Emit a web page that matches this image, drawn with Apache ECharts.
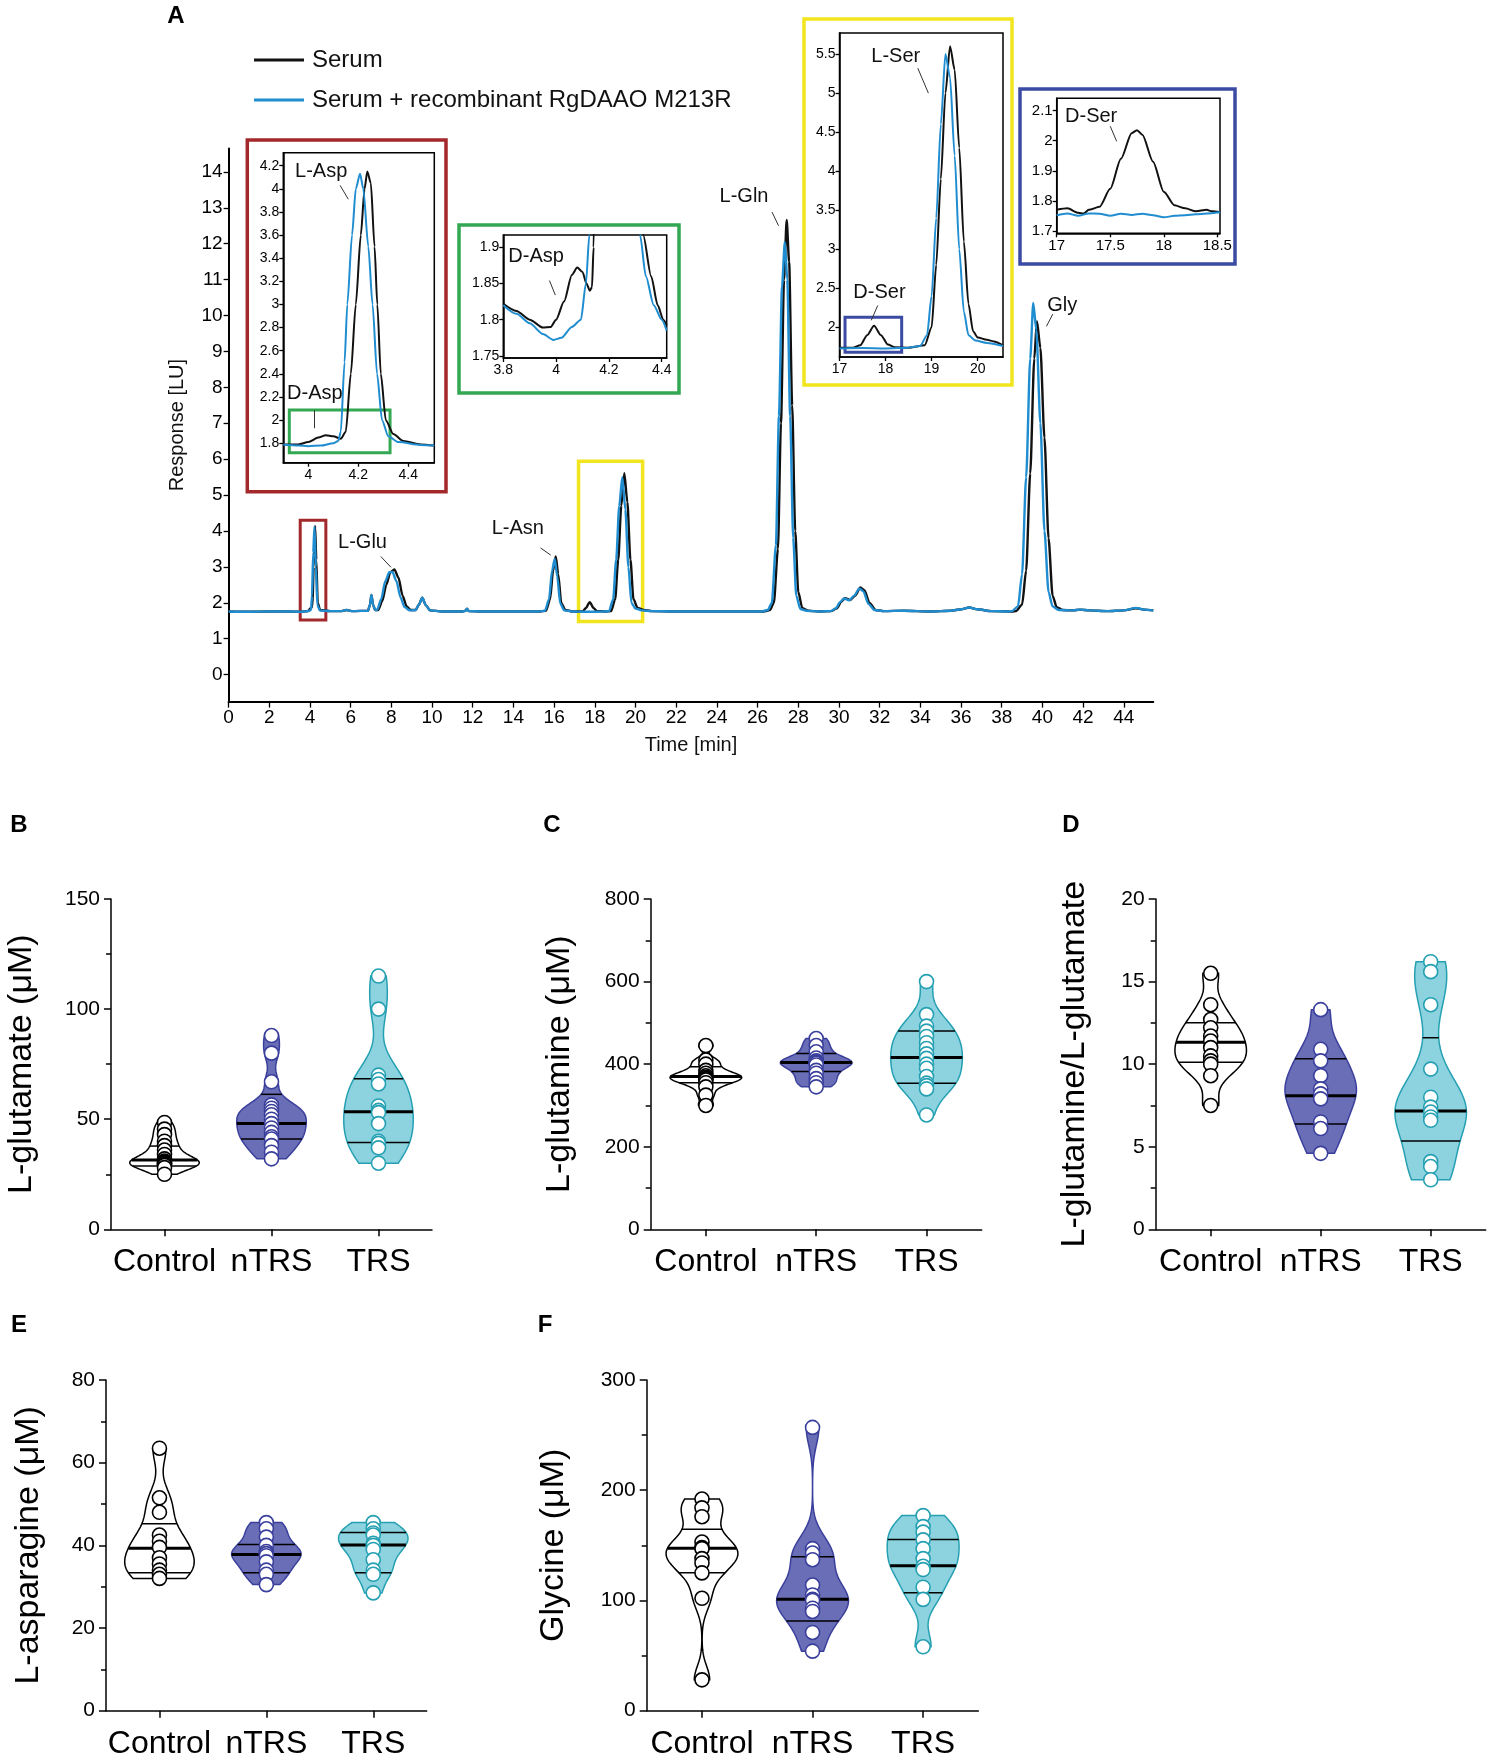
<!DOCTYPE html>
<html><head><meta charset="utf-8">
<script src="https://cdn.jsdelivr.net/npm/echarts@6/dist/echarts.min.js"></script>
<style>html,body{margin:0;padding:0;background:#fff}#c{width:1493px;height:1760px}</style>
</head><body><div id="c"></div>
<script>
// ---------------- DATA ----------------
const groups = ['Control', 'nTRS', 'TRS'];

// Panel A: chromatogram traces [time (min), response (LU)]
const serumTrace = [[0,1.76],[1,1.75],[2,1.76],[3,1.76],[3.5,1.75],[3.9,1.77],[4.05,1.86],[4.12,1.9],[4.18,3.0],[4.25,4.14],[4.31,3.2],[4.38,2.0],[4.5,1.8],[5,1.77],[5.5,1.77],[5.8,1.8],[6.1,1.77],[6.85,1.78],[6.95,1.95],[7.02,2.22],[7.1,1.95],[7.2,1.8],[7.35,1.8],[7.55,2.05],[7.75,2.5],[7.95,2.85],[8.15,2.93],[8.35,2.7],[8.55,2.2],[8.75,1.9],[8.95,1.8],[9.2,1.8],[9.35,1.95],[9.52,2.14],[9.7,1.93],[9.9,1.79],[10.5,1.76],[11.5,1.76],[11.65,1.78],[11.72,1.84],[11.8,1.77],[12.5,1.76],[14,1.76],[15.3,1.76],[15.6,1.78],[15.8,2.1],[15.95,2.9],[16.08,3.29],[16.2,2.8],[16.35,2.0],[16.55,1.8],[16.9,1.76],[17.4,1.76],[17.55,1.85],[17.75,2.02],[17.95,1.85],[18.1,1.77],[18.5,1.76],[18.8,1.77],[19.0,2.1],[19.15,3.2],[19.3,4.7],[19.45,5.61],[19.6,4.8],[19.75,3.2],[19.9,2.1],[20.1,1.86],[20.4,1.8],[20.8,1.77],[22,1.76],[24,1.76],[26.3,1.76],[26.6,1.8],[26.8,2.0],[27.0,3.5],[27.15,7],[27.3,11],[27.43,12.66],[27.55,11.5],[27.7,7.5],[27.85,4.0],[28.0,2.3],[28.2,1.85],[28.5,1.78],[29.0,1.76],[29.6,1.77],[29.9,1.85],[30.1,2.02],[30.3,2.13],[30.55,2.08],[30.8,2.2],[31.05,2.43],[31.25,2.35],[31.5,2.0],[31.8,1.8],[32.2,1.77],[33.2,1.78],[34.5,1.76],[35.5,1.78],[36.0,1.82],[36.4,1.87],[36.8,1.82],[37.5,1.77],[38.5,1.76],[38.7,1.77],[39.0,1.95],[39.2,2.9],[39.4,5.6],[39.6,8.8],[39.73,9.84],[39.9,9.1],[40.1,6.6],[40.3,3.8],[40.5,2.2],[40.7,1.88],[41.0,1.8],[41.5,1.79],[41.85,1.81],[42.3,1.79],[43.2,1.77],[44.0,1.79],[44.6,1.85],[45.0,1.81],[45.45,1.79]];
const enzymeTrace = [[0,1.76],[1,1.75],[2,1.76],[3,1.76],[3.5,1.75],[3.9,1.77],[4.05,1.8],[4.1,2.2],[4.16,3.4],[4.22,4.12],[4.29,3.0],[4.36,1.95],[4.48,1.79],[5,1.77],[5.5,1.77],[5.8,1.8],[6.1,1.77],[6.85,1.78],[6.95,1.95],[7.02,2.22],[7.1,1.95],[7.2,1.8],[7.3,1.8],[7.5,2.1],[7.7,2.6],[7.9,2.85],[8.05,2.86],[8.25,2.6],[8.45,2.15],[8.65,1.88],[8.9,1.79],[9.2,1.8],[9.35,1.95],[9.52,2.14],[9.7,1.93],[9.9,1.79],[10.5,1.76],[11.5,1.76],[11.65,1.78],[11.72,1.84],[11.8,1.77],[12.5,1.76],[14,1.76],[15.25,1.76],[15.55,1.78],[15.75,2.1],[15.9,2.9],[16.03,3.22],[16.15,2.75],[16.3,1.98],[16.5,1.79],[16.9,1.76],[17.5,1.75],[18.0,1.75],[18.5,1.76],[18.7,1.77],[18.9,2.1],[19.05,3.2],[19.2,4.7],[19.35,5.5],[19.5,4.6],[19.65,3.0],[19.8,2.0],[20.0,1.84],[20.3,1.79],[20.8,1.77],[22,1.76],[24,1.76],[26.2,1.76],[26.5,1.8],[26.7,2.0],[26.9,3.6],[27.05,7.2],[27.2,10.8],[27.34,12.05],[27.46,11.0],[27.6,7.2],[27.75,3.8],[27.9,2.2],[28.1,1.83],[28.4,1.78],[29.0,1.76],[29.6,1.77],[29.85,1.85],[30.05,2.02],[30.25,2.12],[30.5,2.07],[30.75,2.2],[31.0,2.4],[31.2,2.32],[31.45,1.97],[31.75,1.8],[32.2,1.77],[33.2,1.78],[34.5,1.76],[35.5,1.78],[36.0,1.82],[36.4,1.87],[36.8,1.82],[37.5,1.77],[38.3,1.76],[38.5,1.77],[38.8,1.9],[39.0,2.8],[39.2,5.5],[39.4,8.8],[39.55,10.35],[39.7,9.6],[39.9,7.0],[40.1,4.0],[40.3,2.3],[40.5,1.9],[40.8,1.8],[41.5,1.79],[41.85,1.81],[42.3,1.79],[43.2,1.77],[44.0,1.79],[44.6,1.86],[45.0,1.81],[45.45,1.79]];
const mainXTicks = [0,2,4,6,8,10,12,14,16,18,20,22,24,26,28,30,32,34,36,38,40,42,44];
const mainYTicks = [0,1,2,3,4,5,6,7,8,9,10,11,12,13,14];

// Inset 1 (L-Asp)
const inset1Serum = [[3.9,1.79],[3.96,1.79],[4.0,1.81],[4.04,1.85],[4.07,1.87],[4.1,1.86],[4.13,1.84],[4.15,1.9],[4.17,2.4],[4.19,3.0],[4.21,3.6],[4.225,4.0],[4.236,4.15],[4.25,4.05],[4.265,3.5],[4.276,3.0],[4.29,2.4],[4.31,2.0],[4.34,1.88],[4.38,1.82],[4.45,1.79],[4.504,1.78]];
const inset1Enzyme = [[3.9,1.79],[3.96,1.78],[4.0,1.775],[4.05,1.78],[4.1,1.8],[4.12,1.82],[4.13,1.9],[4.145,2.5],[4.156,3.0],[4.175,3.6],[4.19,4.0],[4.207,4.13],[4.22,4.0],[4.24,3.5],[4.257,3.0],[4.275,2.4],[4.295,2.0],[4.32,1.86],[4.36,1.81],[4.45,1.785],[4.504,1.78]];
const inset1XTicks = [4, 4.2, 4.4];
const inset1YTicks = [1.8,2,2.2,2.4,2.6,2.8,3,3.2,3.4,3.6,3.8,4,4.2];

// Inset 2 (D-Asp)
const inset2Serum = [[3.8,1.822],[3.85,1.812],[3.9,1.8],[3.95,1.789],[3.98,1.79],[4.0,1.8],[4.03,1.825],[4.06,1.862],[4.08,1.872],[4.1,1.866],[4.115,1.85],[4.128,1.84],[4.136,1.845],[4.142,1.9],[4.15,2.1],[4.17,2.6],[4.3,2.6],[4.318,2.1],[4.33,1.917],[4.36,1.86],[4.385,1.82],[4.406,1.8],[4.419,1.792]];
const inset2Enzyme = [[3.8,1.82],[3.85,1.808],[3.9,1.795],[3.95,1.78],[3.99,1.772],[4.02,1.775],[4.06,1.79],[4.094,1.8],[4.113,1.85],[4.126,1.917],[4.135,2.1],[4.15,2.6],[4.29,2.6],[4.305,2.1],[4.318,1.917],[4.34,1.86],[4.37,1.82],[4.4,1.8],[4.419,1.785]];
const inset2XTicks = [3.8, 4, 4.2, 4.4];
const inset2YTicks = [1.75, 1.8, 1.85, 1.9];

// Inset 3 (D-Ser / L-Ser)
const inset3Serum = [[17,1.74],[17.3,1.74],[17.45,1.77],[17.6,1.9],[17.75,2.02],[17.9,1.9],[18.05,1.78],[18.2,1.745],[18.5,1.74],[18.85,1.77],[19.0,2.0],[19.1,2.8],[19.2,3.9],[19.3,5.0],[19.4,5.6],[19.5,5.3],[19.6,4.3],[19.7,3.1],[19.8,2.3],[19.9,1.95],[20.0,1.87],[20.2,1.84],[20.35,1.82],[20.55,1.77]];
const inset3Enzyme = [[17,1.73],[17.5,1.735],[18.0,1.73],[18.5,1.74],[18.75,1.76],[18.9,1.9],[19.0,2.4],[19.1,3.4],[19.2,4.6],[19.3,5.5],[19.4,5.2],[19.5,4.2],[19.6,3.0],[19.7,2.2],[19.8,1.9],[19.95,1.83],[20.2,1.8],[20.55,1.76]];
const inset3XTicks = [17, 18, 19, 20];
const inset3YTicks = [2, 2.5, 3, 3.5, 4, 4.5, 5, 5.5];

// Inset 4 (D-Ser)
const inset4Serum = [[17,1.77],[17.1,1.775],[17.2,1.76],[17.25,1.758],[17.3,1.77],[17.4,1.78],[17.5,1.84],[17.6,1.94],[17.7,2.025],[17.75,2.035],[17.8,2.02],[17.9,1.93],[18.0,1.83],[18.1,1.785],[18.2,1.775],[18.3,1.765],[18.4,1.77],[18.45,1.765],[18.525,1.762]];
const inset4Enzyme = [[17,1.752],[17.1,1.758],[17.2,1.75],[17.3,1.758],[17.4,1.757],[17.5,1.75],[17.6,1.757],[17.7,1.753],[17.8,1.757],[17.9,1.752],[18.0,1.745],[18.1,1.75],[18.2,1.752],[18.3,1.755],[18.4,1.758],[18.525,1.762]];
const inset4XTicks = [17, 17.5, 18, 18.5];
const inset4YTicks = [1.7, 1.8, 1.9, 2, 2.1];

// Panels B-F: individual values per group, and [Q1, median, Q3] lines
const gluControl = [48.5, 45.5, 43, 40, 38, 36, 34, 32, 31, 30.5, 30, 30, 29.5, 29, 28, 25];
const gluNTRS = [88, 80, 67, 56.5, 55, 53.5, 52, 50, 48, 46, 44, 42, 41, 38, 35, 32];
const gluTRS = [115, 100, 70, 68, 66, 56, 54, 53, 48, 40, 39, 37, 30];
const gluQuart = [[28.8, 31.5, 37.8], [41.0, 48.1, 61.3], [39.4, 53.4, 68.4]];

const glnControl = [445, 410, 400, 385, 378, 372, 368, 365, 362, 355, 345, 325, 300];
const glnNTRS = [462, 445, 430, 415, 408, 405, 402, 398, 385, 378, 365, 355, 345];
const glnTRS = [600, 520, 492, 480, 467, 452, 438, 425, 414, 400, 390, 370, 354, 348, 340, 277];
const glnQuart = [[355, 370, 394], [382, 404, 426], [354, 416, 480]];

const ratioControl = [15.5, 13.6, 12.7, 12.2, 11.7, 11.4, 11.0, 10.5, 10.2, 10.0, 9.3, 7.5];
const ratioNTRS = [13.3, 10.9, 10.2, 9.3, 8.5, 8.2, 7.9, 6.5, 6.1, 4.6];
const ratioTRS = [16.2, 15.6, 13.6, 9.7, 8.0, 7.4, 7.1, 6.8, 6.6, 4.1, 3.8, 3.0];
const ratioQuart = [[10.12, 11.33, 12.5], [6.38, 8.08, 10.32], [5.35, 7.17, 11.6]];

const asnControl = [63.5, 51.5, 48, 42.5, 41, 39.5, 37, 35.5, 34, 33, 32];
const asnNTRS = [45.5, 44, 42, 40, 38.5, 38, 37.5, 36, 34, 33, 30.5];
const asnTRS = [45.5, 44, 43, 42.5, 40.5, 40, 39, 36.5, 34, 33, 28.5];
const asnQuart = [[33.4, 39.3, 45.2], [33.4, 37.8, 40.2], [33.4, 40.1, 43.1]];

const glyControl = [192, 184, 176, 153, 148, 147, 138, 134, 125, 102, 28];
const glyNTRS = [257, 147, 143, 137, 114, 105, 101, 100, 93, 90, 71, 54];
const glyTRS = [177, 167, 162, 155, 147, 138, 131, 128, 112, 101, 58];
const glyQuart = [[125.2, 147.3, 164.5], [81.4, 101, 139.7], [107, 131.5, 155.4]];

// ---------------- STYLE / LAYOUT ----------------
const FONT = '"Liberation Sans", Arial, Helvetica, sans-serif';
const BLACK = '#111111', BLUE = '#1f8dd0';
const violinFill = ['#ffffff', '#6a6eb6', '#8dd3df'];
const violinStroke = ['#000000', '#3a3f9c', '#25a0b2'];

const grids = [], xAxes = [], yAxes = [], series = [], graphics = [];

function axisBase(width) {
  return {
    axisLine: { show: true, onZero: false, lineStyle: { color: '#000', width: width } },
    splitLine: { show: false },
  };
}
function valueAxis(gi, min, max, ticks, fontSize, tickLen, margin, extra) {
  return Object.assign({
    type: 'value', gridIndex: gi, min: min, max: max,
    axisTick: { show: true, customValues: ticks, length: tickLen, lineStyle: { color: '#000', width: 1.3 } },
    axisLabel: { show: true, customValues: ticks, fontSize: fontSize, color: '#000', margin: margin, fontFamily: FONT },
  }, axisBase(fontSize > 16 ? 2 : 1.5), extra || {});
}
function traceSeries(name, data, color, gi, width, extra) {
  return Object.assign({
    type: 'line', name: name, data: data, xAxisIndex: gi, yAxisIndex: gi,
    showSymbol: false, symbol: 'none', smooth: 0.25, smoothMonotone: 'x', clip: true,
    lineStyle: { color: color, width: width }, itemStyle: { color: color }, z: 3, silent: true,
  }, extra || {});
}
function leader(lines) {
  return { symbol: 'none', silent: true, animation: false, label: { show: false },
    lineStyle: { color: '#333', width: 1, type: 'solid' },
    data: lines.map(l => [{ coord: l[0] }, { coord: l[1] }]) };
}
function labels(items, size) {
  return { symbol: 'circle', symbolSize: 0.01, silent: true, animation: false,
    label: { show: true, position: 'right', distance: 0, formatter: '{b}', fontSize: size, color: '#111', fontFamily: FONT },
    data: items.map(it => ({ name: it[0], coord: it[1] })) };
}
function box(a, b, color, w) {
  return { silent: true, itemStyle: { color: 'rgba(0,0,0,0)', borderColor: color, borderWidth: w },
    data: [[{ coord: a }, { coord: b }]] };
}

// ---- Panel A main ----
grids.push({ left: 228.6, top: 148.5, width: 924.7, height: 553.1, outerBoundsMode: 'none' });
xAxes.push(valueAxis(0, 0, 45.45, mainXTicks, 19, 6, 7, { name: 'Time [min]', nameLocation: 'middle', nameGap: 34, nameTextStyle: { fontSize: 20, color: '#111', fontFamily: FONT } }));
yAxes.push(valueAxis(0, -0.75, 14.65, mainYTicks, 19, 5, 6, { name: 'Response [LU]', nameLocation: 'middle', nameGap: 41, nameTextStyle: { fontSize: 20, color: '#111', fontFamily: FONT } }));
series.push(traceSeries('Serum', serumTrace, BLACK, 0, 2.4));
series.push(traceSeries('Serum + recombinant RgDAAO M213R', enzymeTrace, BLUE, 0, 2.4, {
  markLine: leader([[[7.48, 3.29], [7.98, 2.99]], [[15.33, 3.53], [15.83, 3.33]], [[26.71, 12.88], [27.03, 12.5]], [[40.51, 10.04], [40.2, 9.7]]]),
  markPoint: labels([['L-Glu', [5.38, 3.67]], ['L-Asn', [12.93, 4.06]], ['L-Gln', [24.13, 13.31]], ['Gly', [40.24, 10.28]]], 20),
}));
series.push({ type: 'line', name: '_boxR', data: [], xAxisIndex: 0, yAxisIndex: 0, markArea: box([3.52, 1.52], [4.78, 4.3], '#a3282b', 3) });
series.push({ type: 'line', name: '_boxY', data: [], xAxisIndex: 0, yAxisIndex: 0, markArea: box([17.2, 1.48], [20.35, 5.94], '#f2e51e', 3.5) });

// ---- Insets ----
const insets = [
  { g: { left: 283.3, top: 152.7, width: 151, height: 310 }, x: [3.9, 4.504], y: [1.632, 4.312], xt: inset1XTicks, yt: inset1YTicks, s: inset1Serum, e: inset1Enzyme, fs: 14,
    extra: { markLine: leader([[[4.127, 4.03], [4.16, 3.91]], [[4.024, 2.085], [4.024, 1.93]]]),
             markPoint: labels([['L-Asp', [3.947, 4.15]], ['D-Asp', [3.915, 2.23]]], 20),
             markArea: box([3.924, 1.719], [4.327, 2.088], '#33a852', 3) } },
  { g: { left: 503.3, top: 235, width: 163.4, height: 123 }, x: [3.8, 4.419], y: [1.747, 1.917], xt: inset2XTicks, yt: inset2YTicks, s: inset2Serum, e: inset2Enzyme, fs: 14,
    extra: { markLine: leader([[[3.975, 1.854], [3.997, 1.834]]]), markPoint: labels([['D-Asp', [3.819, 1.887]]], 20) } },
  { g: { left: 839.5, top: 33, width: 163.5, height: 324 }, x: [17, 20.55], y: [1.62, 5.77], xt: inset3XTicks, yt: inset3YTicks, s: inset3Serum, e: inset3Enzyme, fs: 14,
    extra: { markLine: leader([[[18.7, 5.32], [18.93, 5.0]], [[17.83, 2.28], [17.69, 2.09]]]),
             markPoint: labels([['L-Ser', [17.69, 5.47]], ['D-Ser', [17.3, 2.45]]], 20),
             markArea: box([17.12, 1.68], [18.35, 2.13], '#3b4ba3', 3) } },
  { g: { left: 1056.7, top: 98.3, width: 163.3, height: 135 }, x: [17, 18.525], y: [1.692, 2.141], xt: inset4XTicks, yt: inset4YTicks, s: inset4Serum, e: inset4Enzyme, fs: 15,
    extra: { markLine: leader([[[17.5, 2.048], [17.56, 1.998]]]), markPoint: labels([['D-Ser', [17.078, 2.082]]], 20) } },
];
insets.forEach((ins, k) => {
  const gi = k + 1;
  grids.push(Object.assign({ show: true, borderColor: '#000', borderWidth: 1.5, backgroundColor: '#fff', outerBoundsMode: 'none' }, ins.g));
  xAxes.push(valueAxis(gi, ins.x[0], ins.x[1], ins.xt, ins.fs, 4, 5));
  yAxes.push(valueAxis(gi, ins.y[0], ins.y[1], ins.yt, ins.fs, 4, 4));
  series.push(traceSeries('Serum', ins.s, BLACK, gi, 2));
  series.push(traceSeries('Serum + recombinant RgDAAO M213R', ins.e, BLUE, gi, 2, ins.extra));
});

// inset frames (decoration)
[[247.3, 140, 198.7, 351.7, '#a3282b'], [459, 225, 220, 168, '#33a852'], [804, 19, 208, 366, '#f2e51e'], [1020, 89, 215, 175, '#3b4ba3']].forEach(f => {
  graphics.push({ type: 'rect', shape: { x: f[0], y: f[1], width: f[2], height: f[3] }, style: { fill: 'none', stroke: f[4], lineWidth: 3.5 }, z: 10, silent: true });
});

// ---- Violin panels ----
function kdeShape(vals, bwf) {
  const n = vals.length;
  const mean = vals.reduce((a, b) => a + b, 0) / n;
  const sd = Math.sqrt(vals.reduce((a, b) => a + (b - mean) * (b - mean), 0) / (n - 1));
  const s = vals.slice().sort((a, b) => a - b);
  const q = p => { const i = (n - 1) * p, lo = Math.floor(i), hi = Math.ceil(i); return s[lo] + (s[hi] - s[lo]) * (i - lo); };
  const iqr = q(0.75) - q(0.25);
  const spread = Math.min(sd, iqr / 1.34) || sd;
  const h = 0.9 * spread * Math.pow(n, -0.2) * bwf;
  const dens = y => vals.reduce((a, v) => a + Math.exp(-0.5 * ((y - v) / h) * ((y - v) / h)), 0);
  const lo = s[0], hi = s[n - 1], N = 90;
  const pts = []; let mx = 0;
  for (let i = 0; i <= N; i++) { const y = lo + (hi - lo) * i / N; const d = dens(y); pts.push([y, d]); if (d > mx) mx = d; }
  return { pts: pts.map(p => [p[0], p[1] / mx]), w: y => Math.min(1, dens(y) / mx) };
}

const panels = [
  { letter: 'B', vals: [gluControl, gluNTRS, gluTRS], quart: gluQuart, max: 150, interval: 50, title: 'L-glutamate (μM)', g: { left: 111, top: 899, width: 321, height: 330.3 }, gap: 72, lp: [19, 825] },
  { letter: 'C', vals: [glnControl, glnNTRS, glnTRS], quart: glnQuart, max: 800, interval: 200, title: 'L-glutamine (μM)', g: { left: 650.7, top: 899, width: 331, height: 330.3 }, gap: 74, lp: [552, 825] },
  { letter: 'D', vals: [ratioControl, ratioNTRS, ratioTRS], quart: ratioQuart, max: 20, interval: 5, title: 'L-glutamine/L-glutamate', g: { left: 1155.7, top: 899, width: 330, height: 330.3 }, gap: 64, lp: [1071, 825] },
  { letter: 'E', vals: [asnControl, asnNTRS, asnTRS], quart: asnQuart, max: 80, interval: 20, title: 'L-asparagine (μM)', g: { left: 106, top: 1380, width: 320.7, height: 330.7 }, gap: 60, lp: [19, 1325] },
  { letter: 'F', vals: [glyControl, glyNTRS, glyTRS], quart: glyQuart, max: 300, interval: 100, title: 'Glycine (μM)', g: { left: 646.7, top: 1380, width: 331.7, height: 330.7 }, gap: 76, lp: [545, 1325] },
];

graphics.push({ type: 'text', x: 176, y: 16, style: { text: 'A', font: 'bold 24px ' + FONT, fill: '#000', align: 'center', verticalAlign: 'middle' } });

panels.forEach((p, k) => {
  const gi = 5 + k;
  grids.push(Object.assign({ outerBoundsMode: 'none' }, p.g));
  xAxes.push({
    type: 'category', gridIndex: gi, data: groups, boundaryGap: true,
    axisLine: { show: true, lineStyle: { color: '#000', width: 1.5 } },
    axisTick: { show: true, alignWithLabel: true, length: 7, lineStyle: { color: '#000', width: 1.5 } },
    axisLabel: { fontSize: 32, color: '#000', margin: 17, fontFamily: FONT, interval: 0 },
    splitLine: { show: false },
  });
  yAxes.push({
    type: 'value', gridIndex: gi, min: 0, max: p.max, interval: p.interval,
    axisLine: { show: true, lineStyle: { color: '#000', width: 1.5 } },
    axisTick: { show: true, length: 7, lineStyle: { color: '#000', width: 1.5 } },
    minorTick: { show: true, splitNumber: 2, length: 5, lineStyle: { color: '#000', width: 1.5 } },
    axisLabel: { fontSize: 21, color: '#000', margin: 11, fontFamily: FONT },
    splitLine: { show: false }, minorSplitLine: { show: false },
    name: p.title, nameLocation: 'middle', nameGap: p.gap,
    nameTextStyle: { fontSize: 34, color: '#000', fontFamily: FONT },
  });
  p.vals.forEach((vals, g) => {
    const shape = kdeShape(vals, 0.85);
    const qs = p.quart[g];
    series.push({
      type: 'custom', xAxisIndex: gi, yAxisIndex: gi, z: 2, silent: true, clip: false,
      data: [[g, qs[1]]], encode: { x: 0, y: 1 },
      renderItem: (params, api) => {
        const band = api.size([1, 0])[0];
        const hw = band * 0.325;
        const left = [], right = [];
        shape.pts.forEach(([y, w]) => {
          const c = api.coord([g, y]);
          left.push([c[0] - w * hw, c[1]]);
          right.push([c[0] + w * hw, c[1]]);
        });
        const children = [{ type: 'polygon', shape: { points: left.concat(right.reverse()) },
          style: { fill: violinFill[g], stroke: violinStroke[g], lineWidth: 1.5 } }];
        qs.forEach((qv, i) => {
          const c = api.coord([g, qv]);
          const w = shape.w(qv) * hw;
          children.push({ type: 'line', shape: { x1: c[0] - w, y1: c[1], x2: c[0] + w, y2: c[1] },
            style: { stroke: '#000', lineWidth: i === 1 ? 3 : 1.5 } });
        });
        return { type: 'group', children: children };
      },
    });
    series.push({
      type: 'scatter', xAxisIndex: gi, yAxisIndex: gi, z: 3, silent: true,
      data: vals.map(v => [g, v]), symbol: 'circle', symbolSize: 14,
      itemStyle: { color: '#ffffff', borderColor: violinStroke[g], borderWidth: 1.6, opacity: 1 },
    });
  });
  graphics.push({ type: 'text', x: p.lp[0], y: p.lp[1], style: { text: p.letter, font: 'bold 24px ' + FONT, fill: '#000', align: 'center', verticalAlign: 'middle' } });
});

const chart = echarts.init(document.getElementById('c'), null, { renderer: 'canvas' });
chart.setOption({
  backgroundColor: '#ffffff',
  animation: false,
  textStyle: { fontFamily: FONT, color: '#000' },
  legend: {
    left: 249, top: 43, orient: 'vertical', icon: 'rect', itemWidth: 50, itemHeight: 3, itemGap: 16,
    data: ['Serum', 'Serum + recombinant RgDAAO M213R'],
    textStyle: { fontSize: 24, color: '#111', fontFamily: FONT, padding: [0, 0, 0, 3] },
    selectedMode: false,
  },
  tooltip: { show: false },
  grid: grids, xAxis: xAxes, yAxis: yAxes, series: series, graphic: graphics,
});
</script></body></html>
